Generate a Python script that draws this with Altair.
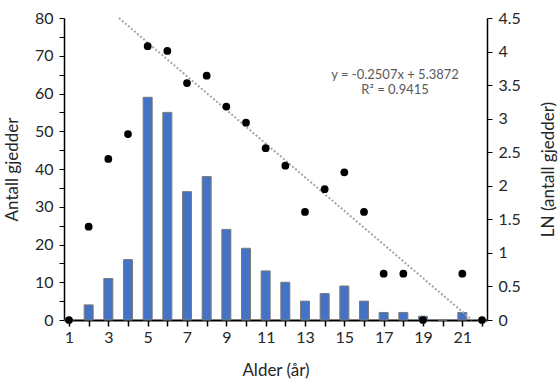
import altair as alt
import pandas as pd

# Age distribution of pike (counts) and natural log of counts
ages = list(range(1, 23))
counts = [0, 4, 11, 16, 59, 55, 34, 38, 24, 19, 13, 10, 5, 7, 9, 5, 2, 2, 1, 0, 2, 0]

ln_ages = [1, 2, 3, 4, 5, 6, 7, 8, 9, 10, 11, 12, 13, 14, 15, 16, 17, 18, 19, 21, 22]
ln_counts = [0, 1.39, 2.40, 2.77, 4.08, 4.01, 3.53, 3.64, 3.18, 2.94, 2.56, 2.30,
             1.61, 1.95, 2.20, 1.61, 0.69, 0.69, 0, 0.69, 0]

# Linear trendline fitted to the log counts
slope = -0.2507
intercept = 5.3872
trend_x = [(intercept - 4.5) / -slope, intercept / -slope]
trend_y = [4.5, 0.0]

ln_ticks = [0, 0.5, 1, 1.5, 2, 2.5, 3, 3.5, 4, 4.5]

FONT = "Lato"
TXT = "#262626"

bars_df = pd.DataFrame({"age": ages, "count": counts})
ln_df = pd.DataFrame({"age": ln_ages, "ln": ln_counts})
trend_df = pd.DataFrame({"age": trend_x, "ln": trend_y})

common = dict(
    grid=False, domainColor="black", tickColor="black", labelFont=FONT,
    titleFont=FONT, labelColor=TXT, titleColor=TXT, titleFontWeight="normal",
    labelOverlap=False, labelFontSize=16, titleFontSize=17,
)

x_scale = alt.Scale(domain=[1, 22], nice=False, zero=False)
x_axis = alt.Axis(
    title="Alder (år)", values=ages,
    labelExpr="datum.value % 2 == 1 ? datum.label : ''",
    domainWidth=2, tickSize=6, tickWidth=1.5, labelPadding=3,
    titleY=50, titleBaseline="middle", **common,
)

left_axis = alt.Axis(
    title="Antall gjedder", values=list(range(0, 81, 5)),
    labelExpr="datum.value % 10 == 0 ? datum.label : ''",
    domainWidth=1.5, tickSize=5, labelPadding=6,
    titleX=-52, titleY=151, titleAlign="center", titleBaseline="middle",
    **common,
)

right_axis = alt.Axis(
    title="LN (antall gjedder)", orient="right",
    values=ln_ticks, format="~g",
    domainWidth=1.5, tickSize=5, labelPadding=6,
    titleAngle=270, titleX=61, titleY=151, titleAlign="center",
    titleBaseline="middle", **common,
)

bars = alt.Chart(bars_df).mark_bar(
    size=9, color="#4472C4", stroke="#7a7a7a", strokeWidth=1
).encode(
    x=alt.X("age:Q", scale=x_scale, axis=x_axis),
    y=alt.Y("count:Q", scale=alt.Scale(domain=[0, 80], nice=False), axis=left_axis),
)

ln_scale = alt.Scale(domain=[0, 4.5], nice=False)

trend = alt.Chart(trend_df).mark_line(
    color="#a6a6a6", strokeDash=[2, 2], strokeWidth=2
).encode(
    x=alt.X("age:Q", scale=x_scale, axis=x_axis),
    y=alt.Y("ln:Q", scale=ln_scale, axis=right_axis),
)

points = alt.Chart(ln_df).mark_circle(size=60, color="black", opacity=1).encode(
    x=alt.X("age:Q", scale=x_scale, axis=x_axis),
    y=alt.Y("ln:Q", scale=ln_scale, axis=right_axis),
)

eq_df = pd.DataFrame({
    "x": [17.58, 17.58], "y": [3.65, 3.43],
    "text": ["y = -0.2507x + 5.3872", "R² = 0.9415"],
})
equation = alt.Chart(eq_df).mark_text(
    font=FONT, fontSize=13, color="#595959", align="center", baseline="middle"
).encode(
    x=alt.X("x:Q", scale=x_scale, axis=x_axis),
    y=alt.Y("y:Q", scale=ln_scale, axis=right_axis),
    text="text:N",
)

right_layer = alt.layer(trend, points, equation)

chart = alt.layer(bars, right_layer).resolve_scale(y="independent").properties(
    width=423, height=302,
    padding={"left": 64, "top": 18, "right": 72, "bottom": 59},
    autosize=alt.AutoSizeParams(type="none"),
    background="white",
).configure_view(stroke=None)

chart.save("out.html", embed_options={"renderer": "svg", "actions": False})
